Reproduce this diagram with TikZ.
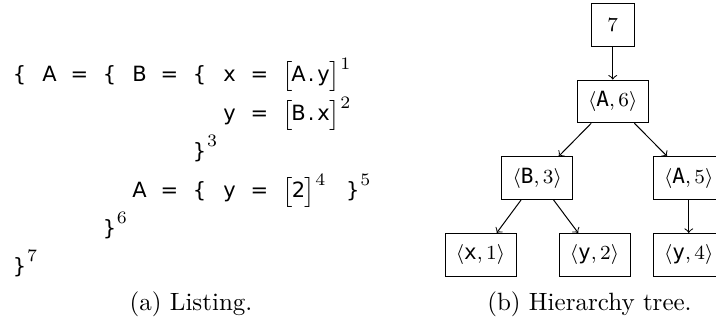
\documentclass[tikz,border=0pt]{standalone}
\usepackage{fontspec}
\setmonofont{DejaVu Sans Mono}
\newfontfamily\lstsans{DejaVu Sans}
\usetikzlibrary{positioning}

% fixed columns for the listing
\newcommand{\cl}[1]{\makebox[6pt]{#1}}
\newcommand{\tk}[1]{\makebox[12pt][l]{\cl{#1}}}
\newcommand{\ic}[1]{\makebox[5pt]{#1}}
\newcommand{\nr}[1]{\raisebox{4.8pt}{\fontsize{7}{8}\selectfont\rmfamily #1}}
\newcommand{\lref}[2]{$\bigl[$#1$\bigr]$\nr{#2}}
\newcommand{\pr}[2]{$\langle\mbox{\ttfamily #1}, #2\rangle$}

\begin{document}
\begin{tikzpicture}[
    node distance=13.2pt,
    lstline/.style={anchor=base west, inner sep=0pt, font=\fontsize{8.4}{10}\selectfont\lstsans},
    caption/.style={anchor=base, inner sep=0pt},
    box/.style={draw, rectangle, minimum size=6mm, inner sep=2pt, font=\fontsize{8.4}{10}\selectfont},
    pair/.style={box, minimum width=28.4pt},
    arrow/.style={->}
]
    \useasboundingbox (0,0) rectangle (286.4pt,-130.4pt);

    % Left side: listing
    \node[lstline] (l1) at (4.6pt,-32.8pt) {\tk\{\tk A\tk=\tk\{\tk B\tk=\tk\{\tk x\tk=\lref{\ic A\ic.\ic y}{1}};
    \node[lstline] (l2) at (4.6pt,-48.2pt) {\hspace*{84pt}\tk y\tk=\lref{\ic B\ic.\ic x}{2}};
    \node[lstline] (l3) at (4.6pt,-63.5pt) {\hspace*{72pt}\cl\}\nr{3}};
    \node[lstline] (l4) at (4.6pt,-78.9pt) {\hspace*{48pt}\tk A\tk=\tk\{\tk y\tk=\lref{\ic 2}{4}\hspace*{8pt}\cl\}\nr{5}};
    \node[lstline] (l5) at (4.6pt,-94.2pt) {\hspace*{36pt}\cl\}\nr{6}};
    \node[lstline] (l6) at (4.6pt,-109.6pt) {\cl\}\nr{7}};
    \node[caption] (capa) at (76.4pt,-124.2pt) {(a) Listing.};

    % Right side: hierarchy tree
    \node[box] (n7) at (245.1pt,-9.9pt) {$7$};
    \node[pair, below=of n7] (a6) {\pr{A}{6}};
    \node[pair, below=of a6, xshift=-30.2pt] (b3) {\pr{B}{3}};
    \node[pair, below=of a6, xshift=30.4pt] (a5) {\pr{A}{5}};
    \node[pair, below=of b3, xshift=-22.7pt] (x1) {\pr{x}{1}};
    \node[pair, below=of b3, xshift=22.9pt] (y2) {\pr{y}{2}};
    \node[pair, below=of a5] (y4) {\pr{y}{4}};
    \draw[arrow] (n7) -- (a6);
    \draw[arrow] (a6) -- (b3);
    \draw[arrow] (a6) -- (a5);
    \draw[arrow] (b3) -- (x1);
    \draw[arrow] (b3) -- (y2);
    \draw[arrow] (a5) -- (y4);
    \node[caption] (capb) at (235.8pt,-124.4pt) {(b) Hierarchy tree.};
\end{tikzpicture}
\end{document}
